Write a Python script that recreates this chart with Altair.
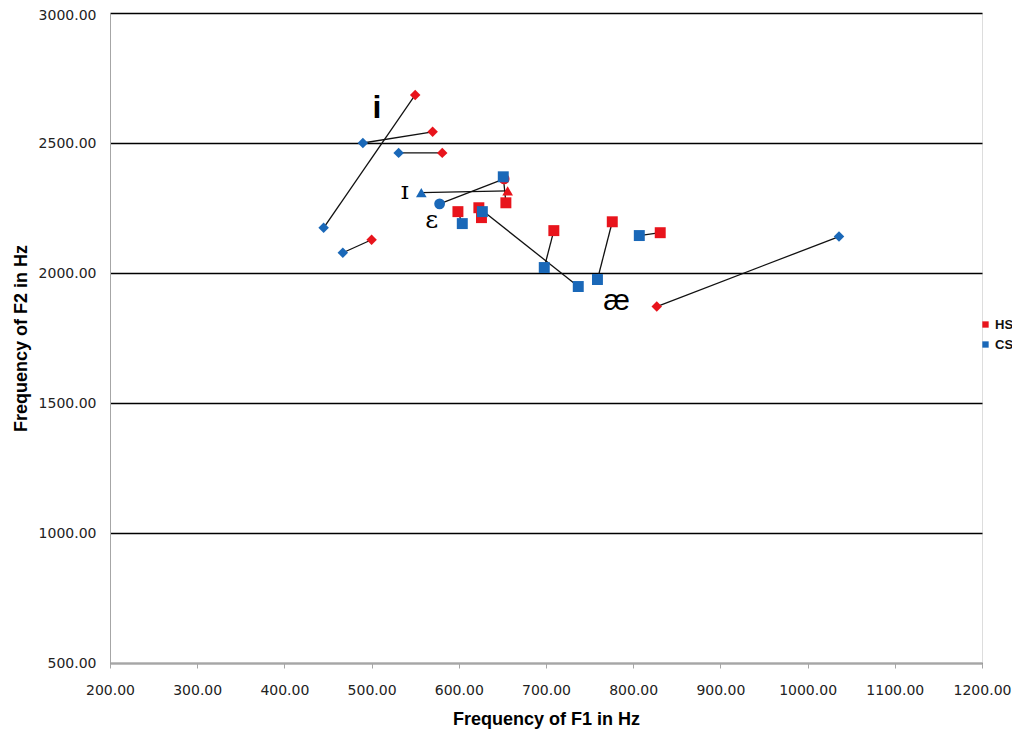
import altair as alt
import pandas as pd

# Pairs of vowel measurements: CS (blue) and HS (red)
pair_ids = list(range(1, 15))
shapes = ["diamond", "diamond", "diamond", "diamond", "diamond",
          "triangle-up", "circle",
          "square", "square", "square", "square", "square", "square", "square"]
cs_f1 = [445, 490, 531, 467, 1036, 557, 578, 651, 604, 737, 627, 698, 759, 807]
cs_f2 = [2174, 2500, 2462, 2078, 2140, 2309, 2266, 2370, 2190, 1948, 2236, 2021, 1975, 2144]
hs_f1 = [550, 570, 581, 500, 827, 656, 652, 654, 599, 623, 626, 709, 776, 831]
hs_f2 = [2685, 2543, 2462, 2128, 1871, 2316, 2362, 2270, 2236, 2251, 2213, 2163, 2197, 2155]

# Vowel labels
label_text = ["i", "ɪ", "ɛ", "æ"]
label_f1 = [506, 538, 569, 781]
label_f2 = [2597, 2286, 2174, 1856]
label_style = ["bold", "serif", "serif", "sans"]

x_ticks = [200, 300, 400, 500, 600, 700, 800, 900, 1000, 1100, 1200]
y_ticks = [500, 1000, 1500, 2000, 2500, 3000]

shape_domain = ["diamond", "triangle-up", "circle", "square"]
shape_sizes = [110, 120, 60, 115]

rows = []
for i, p in enumerate(pair_ids):
    rows.append({"pair": p, "group": "HS", "shape": shapes[i], "F1": hs_f1[i], "F2": hs_f2[i], "ord": 0})
    rows.append({"pair": p, "group": "CS", "shape": shapes[i], "F1": cs_f1[i], "F2": cs_f2[i], "ord": 1})
df = pd.DataFrame(rows)

labels = pd.DataFrame({"text": label_text, "F1": label_f1, "F2": label_f2, "style": label_style})

xscale = alt.Scale(domain=[200, 1200], nice=False, zero=False)
yscale = alt.Scale(domain=[500, 3000], nice=False, zero=False)

xenc = alt.X("F1:Q", scale=xscale,
             axis=alt.Axis(values=x_ticks, format=".2f", title="Frequency of F1 in Hz",
                           grid=False, domainColor="#a6a6a6", tickColor="#a6a6a6",
                           tickSize=5, labelPadding=15, labelFont="DejaVu Sans",
                           labelFontSize=14, labelColor="#222222", labelFlush=False,
                           labelOverlap=False,
                           titleFont="Liberation Sans", titleFontSize=18,
                           titleFontWeight="bold", titlePadding=13, titleColor="#000000"))
yenc = alt.Y("F2:Q", scale=yscale,
             axis=alt.Axis(values=y_ticks, format=".2f", title="Frequency of F2 in Hz",
                           grid=True, gridColor="#000000", gridWidth=1.5,
                           domainColor="#a6a6a6", ticks=False, labelPadding=14,
                           labelFont="DejaVu Sans", labelFontSize=14, labelColor="#222222",
                           labelFlush=False, labelOverlap=False,
                           labelOffset={"condition": {"test": "datum.value == 3000", "value": 2},
                                        "value": 0},
                           titleFont="Liberation Sans", titleFontSize=18,
                           titleFontWeight="bold", titlePadding=8, titleColor="#000000"))

lines = alt.Chart(df).mark_line(color="#111111", strokeWidth=1.3).encode(
    x=xenc, y=yenc, detail="pair:N", order="ord:Q"
)

points = alt.Chart(df).mark_point(filled=True, opacity=1).encode(
    x="F1:Q", y="F2:Q",
    color=alt.Color("group:N",
                    scale=alt.Scale(domain=["HS", "CS"], range=["#e8141c", "#1a68b8"]),
                    legend=alt.Legend(title=None, orient="none", legendX=869, legendY=305,
                                      symbolType="square", symbolSize=40,
                                      labelFont="Liberation Sans", labelFontSize=13,
                                      labelFontWeight="bold", labelColor="#111111",
                                      rowPadding=6, symbolOffset=0, labelOffset=3)),
    shape=alt.Shape("shape:N", scale=alt.Scale(domain=shape_domain, range=shape_domain),
                    legend=None),
    size=alt.Size("shape:N", scale=alt.Scale(domain=shape_domain, range=shape_sizes),
                  legend=None),
    order=alt.Order("ord:Q"),
)

t_bold = alt.Chart(labels).transform_filter(alt.datum.style == "bold").mark_text(
    font="Liberation Sans", fontSize=32, fontWeight="bold", baseline="alphabetic", color="#000000"
).encode(x="F1:Q", y="F2:Q", text="text:N")

t_serif = alt.Chart(labels).transform_filter(alt.datum.style == "serif").mark_text(
    font="DejaVu Serif", fontSize=25, baseline="alphabetic", color="#000000"
).encode(x="F1:Q", y="F2:Q", text="text:N")

t_sans = alt.Chart(labels).transform_filter(alt.datum.style == "sans").mark_text(
    font="Liberation Sans", fontSize=30, baseline="alphabetic", color="#000000"
).encode(x="F1:Q", y="F2:Q", text="text:N")

chart = alt.layer(lines, points, t_bold, t_serif, t_sans).properties(
    width=872, height=650,
    autosize=alt.AutoSizeParams(type="none"),
    padding={"left": 102, "top": 5, "right": 30, "bottom": 67},
).configure_view(stroke=None).configure(background="white")

chart.save("out.html", embed_options={"renderer": "svg", "actions": False})
